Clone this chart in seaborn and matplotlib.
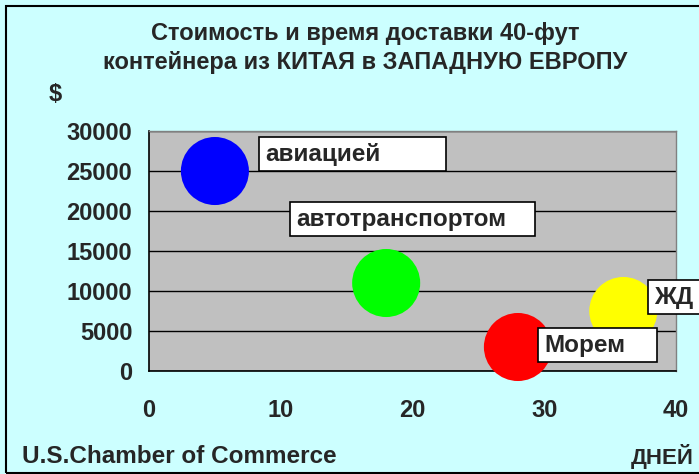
import seaborn as sns
import pandas as pd
import matplotlib.pyplot as plt
from matplotlib.patches import Rectangle

# Data
modes = ['авиацией', 'автотранспортом', 'Морем', 'ЖД']
days = [5, 18, 28, 36]
cost = [25000, 11000, 3000, 7500]
colors = ['#0000ff', '#00ff00', '#ff0000', '#ffff00']

# label box placement relative to each bubble (data units): dx, dy, width
box_layout = [(3.35, 0, 14.2), (-7.3, 5875, 18.6), (1.53, -1875, 9.0), (1.87, -375, 6.0)]
box_h = 4200

df = pd.DataFrame({'mode': modes, 'days': days, 'cost': cost})

sns.set_style('white')
plt.rcParams['font.family'] = ['Liberation Sans', 'DejaVu Sans']
plt.rcParams['font.weight'] = 'bold'

fig = plt.figure(figsize=(6.99, 4.74), dpi=100, facecolor='#ccffff')
ax = fig.add_axes([0.2132, 0.2173, 0.7539, 0.5063])
ax.set_facecolor('#c0c0c0')

sns.scatterplot(data=df, x='days', y='cost', hue='mode', palette=colors,
                s=2400, linewidth=0, legend=False, ax=ax, zorder=5, clip_on=False)

for (x, y, lab), (dx, dy, w) in zip(zip(days, cost, modes), box_layout):
    ax.add_patch(Rectangle((x + dx, y + dy), w, box_h, facecolor='white',
                           edgecolor='black', linewidth=1.2, zorder=6, clip_on=False))
    ax.text(x + dx + 0.45, y + dy + box_h / 2, lab, fontsize=17.5, fontweight='bold',
            va='center', ha='left', zorder=7, clip_on=False)

ax.set_xlim(0, 40)
ax.set_ylim(0, 30000)
ax.set_xticks(range(0, 41, 10))
ax.set_yticks(range(0, 30001, 5000))
ax.yaxis.grid(True, color='black', linewidth=1)
ax.set_axisbelow(True)
ax.tick_params(axis='both', labelsize=17, direction='out', length=6, width=1, color='black')
ax.tick_params(axis='x', pad=14)
ax.tick_params(axis='y', pad=6)
for t in ax.get_xticklabels() + ax.get_yticklabels():
    t.set_fontweight('bold')
ax.set_xlabel('')
ax.set_ylabel('')
for side in ['left', 'bottom']:
    ax.spines[side].set_color('black')
    ax.spines[side].set_linewidth(1.2)
for side in ['top', 'right']:
    ax.spines[side].set_color('#808080')
    ax.spines[side].set_linewidth(1)

fig.text(0.522, 0.930, 'Стоимость и время доставки 40-фут', ha='center', va='center',
         fontsize=17, fontweight='bold')
fig.text(0.522, 0.869, 'контейнера из КИТАЯ в ЗАПАДНУЮ ЕВРОПУ', ha='center', va='center',
         fontsize=17, fontweight='bold')
fig.text(0.079, 0.800, '$', ha='center', va='center', fontsize=17, fontweight='bold')
fig.text(0.031, 0.037, 'U.S.Chamber of Commerce', ha='left', va='center',
         fontsize=17.5, fontweight='bold')
fig.text(0.992, 0.037, 'ДНЕЙ', ha='right', va='center', fontsize=16, fontweight='bold')

# outer chart border (right side is cut off in the original)
fig.add_artist(Rectangle((0.009, 0.003), 1.2, 0.984, transform=fig.transFigure,
                         fill=False, edgecolor='black', linewidth=1.5))

fig.savefig('out.png', dpi=100, facecolor=fig.get_facecolor())
